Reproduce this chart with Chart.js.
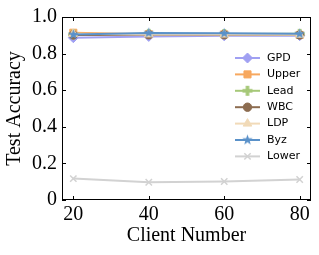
<!DOCTYPE html>
<html>
<head>
<meta charset="utf-8">
<script src="https://cdn.jsdelivr.net/npm/chart.js@4"></script>
<style>
  html, body { margin: 0; padding: 0; background: #fff; }
  #wrap { width: 319px; height: 255px; }
</style>
</head>
<body>
<div id="wrap"><canvas id="chart"></canvas></div>
<script>
// data
const clients = [20, 40, 60, 80];
const gpd   = [0.887, 0.894, 0.897, 0.898];
const upper = [0.914, 0.906, 0.905, 0.902];
const lead  = [0.905, 0.908, 0.907, 0.908];
const wbc   = [0.902, 0.903, 0.903, 0.902];
const ldp   = [0.908, 0.905, 0.904, 0.903];
const byz   = [0.904, 0.913, 0.911, 0.908];
const lower = [0.117, 0.097, 0.101, 0.112];
const yTicks = [0, 0.2, 0.4, 0.6, 0.8, 1.0];

// filled marker shapes Chart.js does not have
function marker (shape, color, r) {
  const c = document.createElement('canvas');
  const s = Math.ceil(r * 2 + 2);
  c.width = s; c.height = s;
  const ctx = c.getContext('2d');
  const cx = s / 2, cy = s / 2;
  ctx.fillStyle = color;
  ctx.beginPath();
  if (shape === 'star') {
    for (let i = 0; i < 10; i++) {
      const rad = i % 2 === 0 ? r : r * 0.42;
      const a = -Math.PI / 2 + i * Math.PI / 5;
      ctx.lineTo(cx + rad * Math.cos(a), cy + rad * Math.sin(a));
    }
  } else if (shape === 'plus') {
    const w = r * 0.36;
    ctx.rect(cx - r, cy - w, 2 * r, 2 * w);
    ctx.rect(cx - w, cy - r, 2 * w, 2 * r);
  }
  ctx.closePath();
  ctx.fill();
  return c;
}

function series (label, data, color, style, radius, order) {
  return {
    label: label,
    data: data.map((v, i) => ({ x: clients[i], y: v })),
    borderColor: color,
    backgroundColor: color,
    pointBackgroundColor: color,
    pointBorderColor: color,
    pointStyle: style,
    pointRadius: radius,
    pointBorderWidth: 1,
    borderWidth: 2,
    tension: 0,
    order: order
  };
}

const colGpd = '#a0a0f2', colUpper = '#f7a85f', colLead = '#a6c878', colWbc = '#8c6c50';
const colLdp = '#f1dab8', colByz = '#5a91c9', colLower = '#d2d2d2';

const datasets = [
  series('GPD', gpd, colGpd, 'rectRot', 5, 6),
  series('Upper', upper, colUpper, 'rect', 5, 5),
  series('Lead', lead, colLead, marker('plus', colLead, 5), 5, 4),
  series('WBC', wbc, colWbc, 'circle', 4.2, 3),
  series('LDP', ldp, colLdp, 'triangle', 5, 2),
  series('Byz', byz, colByz, marker('star', colByz, 5.5), 5.5, 1),
  series('Lower', lower, colLower, 'crossRot', 4.5, 0)
];
datasets[6].pointBorderWidth = 1.5;

// frame with inward ticks on all four sides + matplotlib style legend
const framePlugin = {
  id: 'frame',
  afterDraw (chart) {
    const ctx = chart.ctx;
    const a = chart.chartArea;
    const xs = chart.scales.x, ys = chart.scales.y;
    ctx.save();
    ctx.strokeStyle = '#000';
    ctx.lineWidth = 1;
    ctx.strokeRect(a.left + 0.5, a.top + 0.5, a.right - a.left - 1, a.bottom - a.top - 1);
    ctx.beginPath();
    clients.forEach(v => {
      const px = Math.round(xs.getPixelForValue(v)) + 0.5;
      ctx.moveTo(px, a.bottom); ctx.lineTo(px, a.bottom - 4);
      ctx.moveTo(px, a.top); ctx.lineTo(px, a.top + 4);
    });
    yTicks.forEach(v => {
      const py = Math.round(ys.getPixelForValue(v)) + 0.5;
      ctx.moveTo(a.left, py); ctx.lineTo(a.left + 4, py);
      ctx.moveTo(a.right, py); ctx.lineTo(a.right - 4, py);
    });
    ctx.stroke();

    // legend
    const x0 = 235, x1 = 260, tx = 267;
    let y = 58;
    ctx.font = '11px "DejaVu Sans"';
    ctx.textBaseline = 'middle';
    ctx.textAlign = 'left';
    chart.data.datasets.forEach(ds => {
      ctx.strokeStyle = ds.borderColor;
      ctx.fillStyle = ds.backgroundColor;
      ctx.lineWidth = 2;
      ctx.beginPath();
      ctx.moveTo(x0, y); ctx.lineTo(x1, y);
      ctx.stroke();
      ctx.lineWidth = ds.pointBorderWidth;
      Chart.helpers.drawPoint(ctx, {
        pointStyle: ds.pointStyle, radius: ds.pointRadius, rotation: 0,
        borderWidth: ds.pointBorderWidth
      }, (x0 + x1) / 2, y);
      ctx.fillStyle = '#000';
      ctx.fillText(ds.label, tx, y);
      y += 16.4;
    });
    ctx.restore();
  }
};

const serif = '"Liberation Serif", "Times New Roman", serif';

new Chart(document.getElementById('chart'), {
  type: 'line',
  data: { datasets: datasets },
  plugins: [framePlugin],
  options: {
    responsive: true,
    maintainAspectRatio: false,
    animation: false,
    layout: { padding: { left: 0, right: 8, top: 15, bottom: 0 } },
    plugins: { legend: { display: false }, tooltip: { enabled: false } },
    scales: {
      x: {
        type: 'linear',
        min: 17,
        max: 83,
        afterBuildTicks: (s) => { s.ticks = clients.map(v => ({ value: v })); },
        afterFit: (s) => { s.height = 55; },
        grid: { display: false, drawTicks: false },
        border: { display: false },
        ticks: { color: '#000', font: { family: serif, size: 20 }, padding: 3, maxRotation: 0 },
        title: { display: true, text: 'Client Number', color: '#000',
          font: { family: serif, size: 20 }, padding: { top: 0, bottom: 7 } }
      },
      y: {
        min: 0,
        max: 1,
        afterBuildTicks: (s) => { s.ticks = yTicks.map(v => ({ value: v })); },
        afterFit: (s) => { s.width = 62; },
        grid: { display: false, drawTicks: false },
        border: { display: false },
        ticks: { color: '#000', font: { family: serif, size: 20 }, padding: 5,
          callback: (v) => v === 0 ? '0' : v.toFixed(1) },
        title: { display: true, text: 'Test Accuracy', color: '#000',
          font: { family: serif, size: 20 }, padding: { top: 3, bottom: 0 } }
      }
    }
  }
});
</script>
</body>
</html>
